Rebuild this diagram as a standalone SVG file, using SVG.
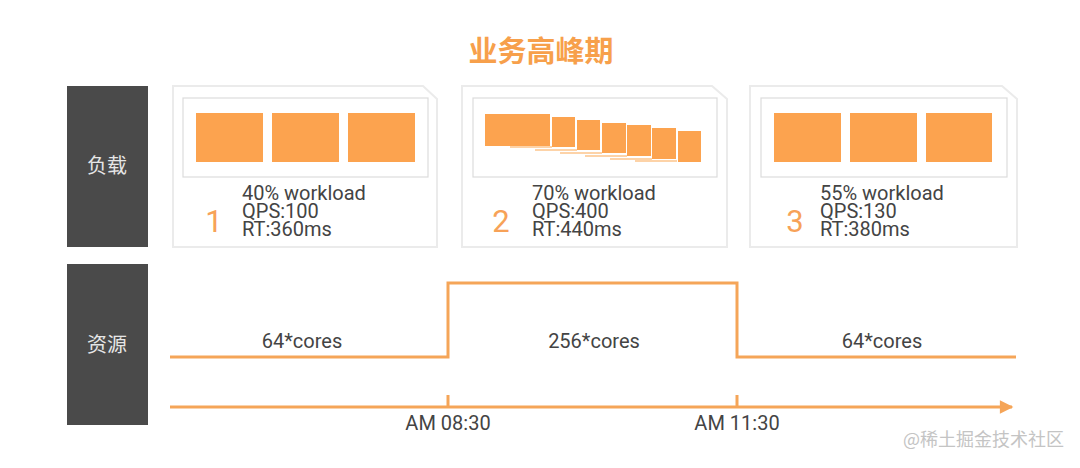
<svg xmlns="http://www.w3.org/2000/svg" width="1080" height="468" viewBox="0 0 1080 468">
<defs>
<style>
.lbl{fill:#4a4a4a}
.lbltxt{fill:#e6e6e6;font-family:"Noto Sans CJK SC","Noto Sans",sans-serif;font-size:20px;text-anchor:middle}
.card{fill:#ffffff;stroke:#ebebeb;stroke-width:2}
.frame{fill:#ffffff;stroke:#dcdcdc;stroke-width:1.2}
.blk{fill:#fca34f}
.sh{fill:#fdd3a8}
.info{fill:#444444;font-family:Roboto,"Liberation Sans",sans-serif;font-size:20px}
.num{fill:#f7a258;font-family:Roboto,"Liberation Sans",sans-serif;font-size:31px;text-anchor:middle}
.line{fill:none;stroke:#f5a558;stroke-width:3}
.cores{fill:#444444;font-family:Roboto,"Liberation Sans",sans-serif;font-size:20px;text-anchor:middle}
</style>
<marker id="arr" viewBox="0 0 10 10" refX="9" refY="5" markerWidth="6" markerHeight="4.5" markerUnits="strokeWidth" orient="auto">
<path d="M0,0 L10,5 L0,10 z" fill="#f5a558"/>
</marker>
</defs>
<rect width="1080" height="468" fill="#ffffff"/>
<text x="541" y="62" text-anchor="middle" font-family="'Noto Sans CJK SC',sans-serif" font-size="29" font-weight="bold" fill="#f7a04b">业务高峰期</text>

<g id="label-load">
<rect class="lbl" x="67" y="86" width="81" height="161"/>
<text class="lbltxt" x="107" y="173">负载</text>
</g>
<g id="label-resource">
<rect class="lbl" x="67" y="264" width="81" height="161"/>
<text class="lbltxt" x="107" y="352">资源</text>
</g>

<g id="card1">
<path class="card" d="M173,86 L423,86 L437,99 L437,247 L173,247 Z"/>
<rect class="frame" x="183" y="98" width="245" height="79"/>
<rect class="blk" x="196" y="113" width="67" height="49"/>
<rect class="blk" x="272" y="113" width="67" height="49"/>
<rect class="blk" x="348" y="113" width="67" height="49"/>
<text class="num" x="214" y="232">1</text>
<text class="info"><tspan x="242" y="200">40% workload</tspan><tspan x="242" y="218">QPS:100</tspan><tspan x="242" y="236">RT:360ms</tspan></text>
</g>

<g id="card2">
<path class="card" d="M462,86 L712,86 L727,99 L727,247 L462,247 Z"/>
<rect class="frame" x="473" y="98" width="244" height="79"/>
<rect class="sh" x="510" y="146" width="42" height="2"/>
<rect class="sh" x="535" y="149" width="42" height="2"/>
<rect class="sh" x="560" y="152" width="42" height="2"/>
<rect class="sh" x="585" y="155" width="42" height="2"/>
<rect class="sh" x="610" y="158" width="42" height="2"/>
<rect class="sh" x="635" y="160" width="42" height="2"/>
<rect class="blk" x="485" y="114" width="65" height="32"/>
<rect class="blk" x="552" y="117" width="23" height="30"/>
<rect class="blk" x="577" y="120" width="23" height="30"/>
<rect class="blk" x="602" y="123" width="24" height="30"/>
<rect class="blk" x="627" y="125" width="24" height="31"/>
<rect class="blk" x="652" y="128" width="24" height="31"/>
<rect class="blk" x="678" y="131" width="23" height="31"/>
<text class="num" x="501" y="232">2</text>
<text class="info"><tspan x="532" y="200">70% workload</tspan><tspan x="532" y="218">QPS:400</tspan><tspan x="532" y="236">RT:440ms</tspan></text>
</g>

<g id="card3">
<path class="card" d="M750,86 L1002,86 L1017,99 L1017,247 L750,247 Z"/>
<rect class="frame" x="761" y="98" width="246" height="79"/>
<rect class="blk" x="774" y="113" width="67" height="49"/>
<rect class="blk" x="850" y="113" width="67" height="49"/>
<rect class="blk" x="926" y="113" width="66" height="49"/>
<text class="num" x="795" y="232">3</text>
<text class="info"><tspan x="820" y="200">55% workload</tspan><tspan x="820" y="218">QPS:130</tspan><tspan x="820" y="236">RT:380ms</tspan></text>
</g>

<g id="connectors">
<path class="line" d="M170,357 L448,357 L448,283 L737,283 L737,357 L1016,357"/>
<path class="line" d="M170,407 L1012,407" marker-end="url(#arr)"/>
<path class="line" d="M448,395 L448,407 M737,395 L737,407"/>
</g>

<g id="labels">
<text class="cores" x="302" y="348">64*cores</text>
<text class="cores" x="594" y="348">256*cores</text>
<text class="cores" x="882" y="348">64*cores</text>
<text class="cores" x="448" y="430">AM 08:30</text>
<text class="cores" x="737" y="430">AM 11:30</text>
</g>
<text x="1064" y="446" text-anchor="end" font-family="'Noto Sans CJK SC',sans-serif" font-size="18" fill="#c4c4c4">@稀土掘金技术社区</text>
</svg>
